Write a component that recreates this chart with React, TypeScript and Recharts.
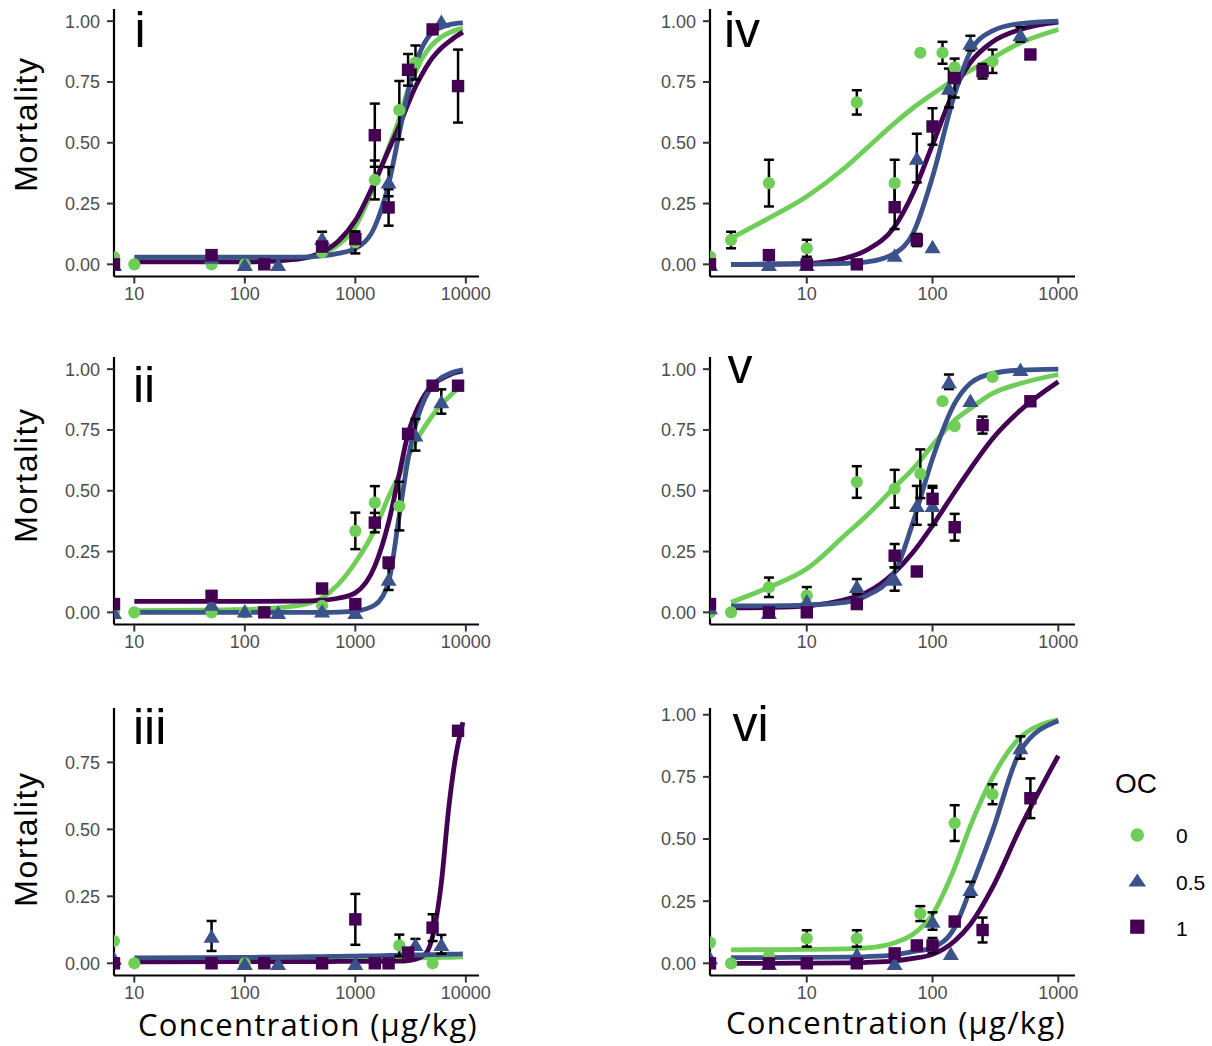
import React from "react"
import { ComposedChart, ErrorBar, Line, Scatter, XAxis, YAxis } from "recharts"

const GREEN = "#6ece58"
const BLUE = "#3b528b"
const PURPLE = "#440154"
const SANS = '"Liberation Sans", Arial, sans-serif'
const TITLE = '"Open Sans", "Noto Sans", sans-serif'

// legend levels (organic carbon)
const ocLevels = ["0", "0.5", "1"]

// axis ticks
const ticksLeftX = [10, 100, 1000, 10000]
const ticksRightX = [10, 100, 1000]
const ticksY = [0, 0.25, 0.5, 0.75, 1]
const ticksYiii = [0, 0.25, 0.5, 0.75]

// concentrations at which the fitted dose-response curves are listed
const fitConcLeft = [10, 100, 300, 500, 700, 1000, 1500, 2000, 2500, 3000, 3500, 4000, 4500, 5000, 6000, 7000, 8000, 9400]
const fitConcRight = [2.5, 5, 10, 20, 30, 50, 70, 100, 150, 200, 300, 500, 1000]

// observed mortality: [concentration, mean, standard error]; concentration 0 = control
type Obs = [number, number, number][]

const obsI0: Obs = [[0, 0.03, 0], [10, 0, 0], [50, 0, 0], [100, 0, 0], [500, 0.05, 0], [1000, 0.09, 0.045], [1500, 0.347, 0.08], [2500, 0.634, 0.12], [3500, 0.83, 0.07]]
const obsI05: Obs = [[0, 0, 0], [50, 0.03, 0], [100, 0, 0], [200, 0, 0], [500, 0.107, 0.027], [2000, 0.34, 0.06], [6000, 1, 0]]
const obsI1: Obs = [[0, 0, 0], [50, 0.038, 0], [150, 0, 0], [500, 0.073, 0], [1000, 0.104, 0.03], [1500, 0.531, 0.13], [2000, 0.234, 0.075], [3000, 0.8, 0.065], [5000, 0.966, 0], [8500, 0.733, 0.15]]

const obsII0: Obs = [[0, 0, 0], [10, 0, 0], [50, 0, 0], [100, 0, 0], [500, 0.027, 0], [1000, 0.335, 0.075], [1500, 0.451, 0.068], [2500, 0.437, 0.1]]
const obsII05: Obs = [[0, 0, 0], [50, 0.034, 0], [100, 0.007, 0], [200, 0, 0], [500, 0.007, 0], [1000, 0, 0], [2000, 0.137, 0.045], [3500, 0.73, 0.065], [6000, 0.867, 0.05]]
const obsII1: Obs = [[0, 0.034, 0], [50, 0.068, 0], [150, 0, 0], [500, 0.098, 0], [1000, 0.034, 0], [1500, 0.369, 0.04], [2000, 0.205, 0], [3000, 0.734, 0], [5000, 0.932, 0], [8500, 0.932, 0]]

const obsIII0: Obs = [[0, 0.083, 0], [10, 0, 0], [100, 0, 0], [2500, 0.067, 0.04], [5000, 0, 0]]
const obsIII05: Obs = [[0, 0.02, 0], [50, 0.102, 0.056], [100, 0, 0], [200, 0, 0], [1000, 0, 0], [3500, 0.071, 0.02], [6000, 0.071, 0.035]]
const obsIII1: Obs = [[0, 0, 0], [50, 0, 0], [150, 0, 0], [500, 0, 0], [1000, 0.164, 0.095], [1500, 0, 0], [2000, 0, 0], [3000, 0.04, 0], [5000, 0.133, 0.05], [8500, 0.868, 0]]

const obsIV0: Obs = [[0, 0.032, 0], [2.5, 0.1, 0.034], [5, 0.334, 0.096], [10, 0.066, 0.035], [25, 0.666, 0.05], [50, 0.334, 0.096], [80, 0.87, 0], [120, 0.87, 0.045], [150, 0.81, 0], [300, 0.835, 0.048]]
const obsIV05: Obs = [[0, 0, 0], [5, 0, 0], [10, 0, 0], [50, 0.038, 0], [75, 0.437, 0.1], [100, 0.073, 0], [135, 0.725, 0.08], [200, 0.91, 0.03], [500, 0.945, 0.03]]
const obsIV1: Obs = [[0, 0, 0], [5, 0.038, 0], [10, 0, 0], [25, 0, 0], [50, 0.235, 0.09], [75, 0.1, 0.025], [100, 0.567, 0.075], [150, 0.766, 0.08], [250, 0.794, 0.03], [600, 0.863, 0]]

const obsV0: Obs = [[0, 0, 0], [2.5, 0, 0], [5, 0.103, 0.04], [10, 0.069, 0.035], [25, 0.536, 0.065], [50, 0.508, 0.078], [80, 0.57, 0.1], [120, 0.868, 0], [150, 0.766, 0], [300, 0.968, 0]]
const obsV05: Obs = [[0, 0.02, 0], [5, 0, 0], [10, 0.048, 0], [25, 0.107, 0.03], [50, 0.137, 0.048], [75, 0.44, 0.08], [100, 0.44, 0.08], [135, 0.948, 0.03], [200, 0.872, 0], [500, 1, 0]]
const obsV1: Obs = [[0, 0.034, 0], [5, 0, 0], [10, 0, 0], [25, 0.034, 0], [50, 0.233, 0.048], [75, 0.168, 0], [100, 0.467, 0.045], [150, 0.35, 0.055], [250, 0.77, 0.035], [600, 0.868, 0]]

const obsVI0: Obs = [[0, 0.083, 0], [2.5, 0, 0], [5, 0.03, 0], [10, 0.1, 0.033], [25, 0.1, 0.033], [80, 0.2, 0.03], [150, 0.564, 0.072], [300, 0.68, 0.04]]
const obsVI05: Obs = [[0, 0.023, 0], [5, 0, 0], [25, 0.036, 0], [50, 0, 0], [100, 0.17, 0.035], [140, 0.04, 0], [200, 0.298, 0.03], [500, 0.868, 0.045]]
const obsVI1: Obs = [[0, 0, 0], [5, 0, 0], [10, 0, 0], [25, 0, 0], [50, 0.04, 0], [75, 0.072, 0], [100, 0.072, 0.03], [150, 0.168, 0], [250, 0.134, 0.05], [600, 0.664, 0.08]]

// fitted curves, values at fitConcLeft / fitConcRight
const fitI0 = [0.015, 0.015, 0.022, 0.045, 0.08, 0.155, 0.33, 0.48, 0.6, 0.72, 0.79, 0.845, 0.88, 0.905, 0.935, 0.952, 0.962, 0.97]
const fitI05 = [0.03, 0.03, 0.03, 0.035, 0.045, 0.065, 0.155, 0.33, 0.54, 0.71, 0.82, 0.89, 0.93, 0.955, 0.975, 0.985, 0.99, 0.993]
const fitI1 = [0.01, 0.01, 0.022, 0.05, 0.095, 0.18, 0.34, 0.47, 0.57, 0.66, 0.73, 0.78, 0.82, 0.85, 0.89, 0.915, 0.935, 0.955]

const fitII0 = [0.007, 0.012, 0.028, 0.06, 0.115, 0.205, 0.34, 0.475, 0.565, 0.64, 0.7, 0.745, 0.78, 0.81, 0.855, 0.885, 0.91, 0.935]
const fitII05 = [0, 0, 0, 0, 0.001, 0.005, 0.03, 0.125, 0.4, 0.63, 0.77, 0.85, 0.9, 0.93, 0.965, 0.98, 0.99, 0.997]
const fitII1 = [0.045, 0.045, 0.046, 0.05, 0.058, 0.08, 0.19, 0.37, 0.57, 0.735, 0.82, 0.875, 0.91, 0.935, 0.96, 0.975, 0.985, 0.993]

const fitIII0 = [0.01, 0.012, 0.013, 0.014, 0.015, 0.016, 0.017, 0.018, 0.019, 0.019, 0.02, 0.02, 0.021, 0.021, 0.022, 0.022, 0.023, 0.024]
const fitIII05 = [0.02, 0.022, 0.024, 0.025, 0.026, 0.027, 0.028, 0.029, 0.03, 0.03, 0.031, 0.031, 0.032, 0.032, 0.033, 0.034, 0.034, 0.035]
const fitIII1 = [0.005, 0.006, 0.006, 0.006, 0.007, 0.007, 0.007, 0.008, 0.008, 0.01, 0.015, 0.025, 0.045, 0.1, 0.3, 0.58, 0.76, 0.9]

const fitIV0 = [0.107, 0.19, 0.279, 0.396, 0.478, 0.581, 0.643, 0.7, 0.76, 0.797, 0.849, 0.911, 0.966]
const fitIV05 = [0, 0, 0.001, 0.004, 0.01, 0.045, 0.128, 0.36, 0.7, 0.875, 0.96, 0.99, 1]
const fitIV1 = [0, 0.001, 0.004, 0.025, 0.059, 0.155, 0.293, 0.492, 0.72, 0.83, 0.915, 0.966, 0.996]

const fitV0 = [0.041, 0.103, 0.179, 0.316, 0.398, 0.515, 0.59, 0.687, 0.79, 0.838, 0.9, 0.941, 0.978]
const fitV05 = [0.027, 0.027, 0.03, 0.041, 0.069, 0.165, 0.371, 0.632, 0.859, 0.942, 0.982, 0.996, 1]
const fitV1 = [0.018, 0.02, 0.027, 0.052, 0.082, 0.165, 0.247, 0.357, 0.495, 0.59, 0.714, 0.831, 0.948]

const fitVI0 = [0.054, 0.055, 0.056, 0.058, 0.062, 0.083, 0.117, 0.197, 0.385, 0.553, 0.748, 0.909, 0.979]
const fitVI05 = [0.023, 0.023, 0.024, 0.025, 0.027, 0.034, 0.047, 0.063, 0.144, 0.298, 0.533, 0.855, 0.976]
const fitVI1 = [0, 0, 0.001, 0.002, 0.004, 0.01, 0.02, 0.036, 0.09, 0.157, 0.305, 0.546, 0.835]

const Y_W = 80
const M_TOP = 10
const M_RIGHT = 12
const X_H = 40
const PLOT_W = 365
const PLOT_H = 267.5
const CURVE_W = 4.8

const dot = (fill: string, r: number) => (p: any) => <circle cx={p.cx} cy={p.cy} r={r} fill={fill} />
const square = (fill: string, s: number) => (p: any) => <rect x={p.cx - s / 2} y={p.cy - s / 2} width={s} height={s} fill={fill} />
const triangle = (fill: string, w: number, h: number) => (p: any) => (
  <polygon points={`${p.cx - w / 2},${p.cy + h / 2} ${p.cx + w / 2},${p.cy + h / 2} ${p.cx},${p.cy - h / 2}`} fill={fill} />
)
const nothing = () => <g />

// controls have no concentration, so they sit on the left edge of the log axis
const toPoints = (obs: Obs, xMin: number) => obs.map(([c, m, se]) => ({ x: c === 0 ? xMin : c, y: m, err: se }))
const toCurve = (conc: number[], vals: number[]) => conc.map((c, i) => ({ x: c, y: vals[i] }))

type PanelProps = {
  left: number
  top: number
  xDomain: [number, number]
  xTicks: number[]
  yDomain: [number, number]
  yTicks: number[]
  fitConc: number[]
  fits: [number[], number[], number[]]
  obs: [Obs, Obs, Obs]
}

function Panel({ left, top, xDomain, xTicks, yDomain, yTicks, fitConc, fits, obs }: PanelProps) {
  const [o0, o05, o1] = obs.map((o) => toPoints(o, xDomain[0]))
  const bars = [...o0, ...o05, ...o1].filter((d) => d.err > 0)
  const tickStyle = { fill: "#4d4d4d", fontSize: 18, fontFamily: SANS }
  return (
    <div style={{ position: "absolute", left: left - Y_W, top: top - M_TOP }}>
      <ComposedChart
        width={PLOT_W + Y_W + M_RIGHT}
        height={PLOT_H + M_TOP + X_H}
        margin={{ top: M_TOP, right: M_RIGHT, left: 0, bottom: 0 }}
      >
        <XAxis
          dataKey="x"
          type="number"
          scale="log"
          domain={xDomain}
          ticks={xTicks}
          interval={0}
          allowDataOverflow
          height={X_H}
          tickSize={7}
          tickMargin={4}
          axisLine={{ stroke: "#000", strokeWidth: 2.2 }}
          tickLine={{ stroke: "#333", strokeWidth: 2 }}
          tick={tickStyle}
        />
        <YAxis
          dataKey="y"
          type="number"
          domain={yDomain}
          ticks={yTicks}
          interval={0}
          allowDataOverflow
          width={Y_W}
          tickSize={7}
          tickMargin={7}
          tickFormatter={(v: number) => v.toFixed(2)}
          axisLine={{ stroke: "#000", strokeWidth: 2.2 }}
          tickLine={{ stroke: "#333", strokeWidth: 2 }}
          tick={tickStyle}
        />
        <Line data={toCurve(fitConc, fits[0])} dataKey="y" type="monotone" stroke={GREEN} strokeWidth={CURVE_W} dot={false} isAnimationActive={false} />
        <Line data={toCurve(fitConc, fits[2])} dataKey="y" type="monotone" stroke={PURPLE} strokeWidth={CURVE_W} dot={false} isAnimationActive={false} />
        <Line data={toCurve(fitConc, fits[1])} dataKey="y" type="monotone" stroke={BLUE} strokeWidth={CURVE_W} dot={false} isAnimationActive={false} />
        <Scatter data={bars} shape={nothing} isAnimationActive={false}>
          <ErrorBar dataKey="err" direction="y" width={5} stroke="#000" strokeWidth={2.5} isAnimationActive={false} />
        </Scatter>
        <Scatter data={o0} shape={dot(GREEN, 6.1)} isAnimationActive={false} />
        <Scatter data={o05} shape={triangle(BLUE, 16, 13.5)} isAnimationActive={false} />
        <Scatter data={o1} shape={square(PURPLE, 12.4)} isAnimationActive={false} />
      </ComposedChart>
    </div>
  )
}

const LEFT_X: [number, number] = [6.55, 13150]
const RIGHT_X: [number, number] = [1.7, 1358]
const FULL_Y: [number, number] = [-0.05, 1.05]

export default function App() {
  return (
    <div style={{ position: "absolute", left: 0, top: 0, width: 1212, height: 1046, background: "#fff" }}>
      <Panel left={114} top={9} xDomain={LEFT_X} xTicks={ticksLeftX} yDomain={FULL_Y} yTicks={ticksY}
        fitConc={fitConcLeft} fits={[fitI0, fitI05, fitI1]} obs={[obsI0, obsI05, obsI1]} />
      <Panel left={114} top={357} xDomain={LEFT_X} xTicks={ticksLeftX} yDomain={FULL_Y} yTicks={ticksY}
        fitConc={fitConcLeft} fits={[fitII0, fitII05, fitII1]} obs={[obsII0, obsII05, obsII1]} />
      <Panel left={114} top={707.5} xDomain={LEFT_X} xTicks={ticksLeftX} yDomain={[-0.0456, 0.953]} yTicks={ticksYiii}
        fitConc={fitConcLeft} fits={[fitIII0, fitIII05, fitIII1]} obs={[obsIII0, obsIII05, obsIII1]} />
      <Panel left={710} top={9} xDomain={RIGHT_X} xTicks={ticksRightX} yDomain={FULL_Y} yTicks={ticksY}
        fitConc={fitConcRight} fits={[fitIV0, fitIV05, fitIV1]} obs={[obsIV0, obsIV05, obsIV1]} />
      <Panel left={710} top={357} xDomain={RIGHT_X} xTicks={ticksRightX} yDomain={FULL_Y} yTicks={ticksY}
        fitConc={fitConcRight} fits={[fitV0, fitV05, fitV1]} obs={[obsV0, obsV05, obsV1]} />
      <Panel left={710} top={707.5} xDomain={RIGHT_X} xTicks={ticksRightX} yDomain={[-0.049, 1.027]} yTicks={ticksY}
        fitConc={fitConcRight} fits={[fitVI0, fitVI05, fitVI1]} obs={[obsVI0, obsVI05, obsVI1]} />

      <svg width={1212} height={1046} style={{ position: "absolute", left: 0, top: 0, pointerEvents: "none" }}>
        {/* axis titles */}
        {[124, 475, 839].map((cy) => (
          <text key={cy} transform={`translate(37,${cy}) rotate(-90)`} textAnchor="middle"
            fontFamily={SANS} fontSize={32} letterSpacing={1.6} fill="#000">Mortality</text>
        ))}
        <text x={308} y={1036} textAnchor="middle" fontFamily={TITLE} fontSize={31} letterSpacing={1.3} fill="#000">Concentration (µg/kg)</text>
        <text x={896} y={1034} textAnchor="middle" fontFamily={TITLE} fontSize={31} letterSpacing={1.3} fill="#000">Concentration (µg/kg)</text>

        {/* panel labels */}
        <g fontFamily={SANS} fontSize={50} fill="#000">
          <text x={134.5} y={46.5}>i</text>
          <text x={133} y={401.5}>ii</text>
          <text x={133} y={744}>iii</text>
          <text x={724} y={46.5}>iv</text>
          <text x={727.5} y={383}>v</text>
          <text x={732.5} y={741}>vi</text>
        </g>

        {/* legend */}
        <text x={1115} y={793} fontFamily={SANS} fontSize={28} fill="#000">OC</text>
        <circle cx={1137.3} cy={835} r={6.7} fill={GREEN} />
        <polygon points="1128.5,886.5 1146.1,886.5 1137.3,873.5" fill={BLUE} />
        <rect x={1130.2} y={919.6} width={14.2} height={14.2} fill={PURPLE} />
        {ocLevels.map((lab, i) => (
          <text key={lab} x={1176} y={843 + i * 46.5} fontFamily={SANS} fontSize={21} fill="#000">{lab}</text>
        ))}
      </svg>
    </div>
  )
}
